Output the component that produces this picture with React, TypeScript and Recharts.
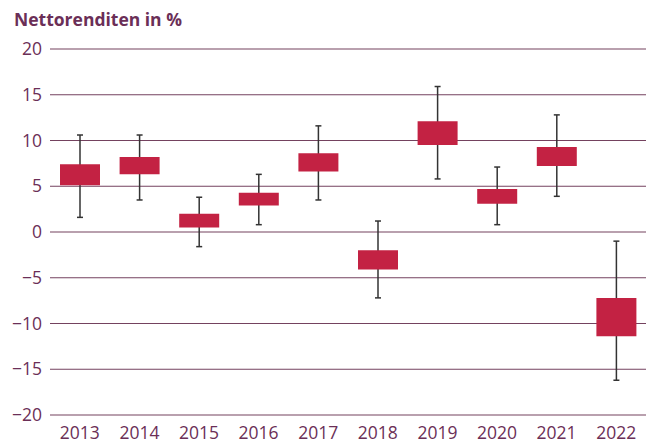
import React from 'react';
import { ComposedChart, Bar, XAxis, YAxis, CartesianGrid } from 'recharts';

const years = ['2013', '2014', '2015', '2016', '2017', '2018', '2019', '2020', '2021', '2022'];
const whiskerMin = [1.6, 3.5, -1.6, 0.8, 3.5, -7.2, 5.8, 0.8, 3.9, -16.2];
const boxLow = [5.1, 6.3, 0.5, 2.9, 6.6, -4.1, 9.5, 3.1, 7.2, -11.4];
const boxHigh = [7.4, 8.2, 2.0, 4.3, 8.6, -2.0, 12.1, 4.7, 9.3, -7.2];
const whiskerMax = [10.6, 10.6, 3.8, 6.3, 11.6, 1.2, 15.9, 7.1, 12.8, -1.0];
const yTicks = [-20, -15, -10, -5, 0, 5, 10, 15, 20];

const data = years.map((y, i) => ({
  year: y,
  whisker: [whiskerMin[i], whiskerMax[i]],
  box: [boxLow[i], boxHigh[i]],
}));

const TEXT = '#6B2F57';
const GRID = '#74425F';
const BOX = '#C32243';
const WHISK = '#333333';
const FONT = '"Open Sans", sans-serif';

const WhiskerShape = (props: any) => {
  const { x, y, width, height } = props;
  const cx = x + width / 2;
  const top = Math.min(y, y + height);
  const bot = Math.max(y, y + height);
  return (
    <g>
      <line x1={cx} x2={cx} y1={top} y2={bot} stroke={WHISK} strokeWidth={1.5} />
      <line x1={cx - 3} x2={cx + 3} y1={top} y2={top} stroke={WHISK} strokeWidth={1.5} />
      <line x1={cx - 3} x2={cx + 3} y1={bot} y2={bot} stroke={WHISK} strokeWidth={1.5} />
    </g>
  );
};

const fmt = (v: number) => (v < 0 ? '\u2212' + Math.abs(v) : String(v));

export default function App() {
  return (
    <div style={{ position: 'absolute', left: 0, top: 0, width: 649, height: 443, background: '#fff' }}>
      <div
        style={{
          position: 'absolute',
          left: 14,
          top: 10,
          fontFamily: FONT,
          fontWeight: 700,
          fontSize: 17.5,
          lineHeight: '18px',
          color: TEXT,
          whiteSpace: 'nowrap',
        }}
      >
        Nettorenditen in %
      </div>
      <ComposedChart
        width={649}
        height={443}
        data={data}
        margin={{ top: 49, right: 3, bottom: 0, left: 0 }}
        barGap={-40}
        barSize={40}
      >
        <CartesianGrid vertical={false} stroke={GRID} strokeWidth={1.2} />
        <XAxis
          dataKey="year"
          axisLine={false}
          tickLine={false}
          height={28}
          interval={0}
          tick={{ fill: TEXT, fontSize: 17.5, fontFamily: FONT }}
          tickMargin={6}
        />
        <YAxis
          domain={[-20, 20]}
          ticks={yTicks}
          width={50}
          axisLine={false}
          tickLine={false}
          tickFormatter={fmt}
          tick={{ fill: TEXT, fontSize: 17.5, fontFamily: FONT }}
          tickMargin={2}
        />
        <Bar dataKey="whisker" shape={WhiskerShape} isAnimationActive={false} />
        <Bar dataKey="box" fill={BOX} isAnimationActive={false} />
      </ComposedChart>
    </div>
  );
}
